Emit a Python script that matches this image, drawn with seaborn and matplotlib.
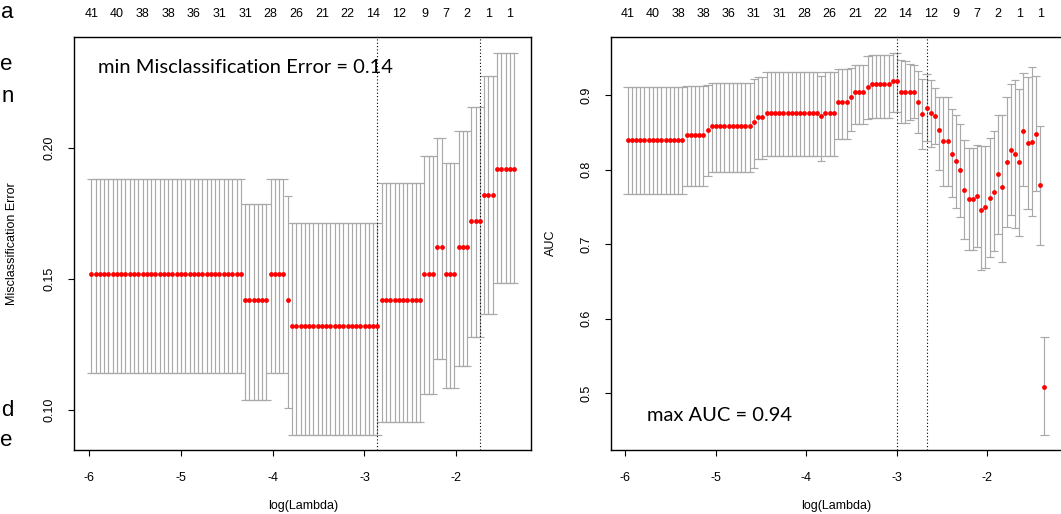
import numpy as np
import pandas as pd
import matplotlib
matplotlib.use("Agg")
import matplotlib.pyplot as plt
import seaborn as sns
from matplotlib.transforms import blended_transform_factory

# ---------------- data ----------------
log_lambda = [-5.975, -5.928, -5.882, -5.835, -5.789, -5.742, -5.696, -5.649, -5.603, -5.556,
              -5.510, -5.463, -5.417, -5.370, -5.324, -5.277, -5.231, -5.184, -5.138, -5.091,
              -5.045, -4.998, -4.952, -4.905, -4.859, -4.812, -4.766, -4.719, -4.673, -4.626,
              -4.579, -4.533, -4.486, -4.440, -4.393, -4.347, -4.300, -4.254, -4.207, -4.161,
              -4.114, -4.068, -4.021, -3.975, -3.928, -3.882, -3.835, -3.789, -3.742, -3.696,
              -3.649, -3.602, -3.556, -3.509, -3.463, -3.416, -3.370, -3.323, -3.277, -3.230,
              -3.184, -3.137, -3.091, -3.044, -2.998, -2.951, -2.905, -2.858, -2.812, -2.765,
              -2.719, -2.672, -2.626, -2.579, -2.533, -2.486, -2.440, -2.393, -2.346, -2.300,
              -2.253, -2.207, -2.160, -2.114, -2.067, -2.021, -1.974, -1.928, -1.881, -1.835,
              -1.788, -1.742, -1.695, -1.649, -1.602, -1.556, -1.509, -1.463, -1.416, -1.370]

nzero_idx = [0, 6, 12, 18, 24, 30, 36, 42, 48, 54, 60, 66, 72, 78, 83, 88, 93, 98]
nzero_labels = ["41", "40", "38", "38", "36", "31", "31", "28", "26", "21", "22",
                "14", "12", "9", "7", "2", "1", "1"]

# Left panel: misclassification error (piecewise-constant runs along the lambda path)
err_run_len = [36, 6, 4, 1, 21, 10, 3, 2, 3, 3, 3, 3, 5]
err_mean = [0.152, 0.142, 0.152, 0.142, 0.132, 0.142, 0.152, 0.162, 0.152, 0.162, 0.172, 0.182, 0.192]
err_up = [0.188, 0.1786, 0.188, 0.1816, 0.1713, 0.1867, 0.197, 0.2037, 0.194, 0.2063, 0.2156, 0.2272, 0.2363]
err_lo = [0.1142, 0.1038, 0.1142, 0.1008, 0.0907, 0.0956, 0.1063, 0.1195, 0.1086, 0.1168, 0.1278, 0.1368, 0.1484]
err_vlines_idx = [67, 91]

# Right panel: AUC
auc_mean = ([0.840] * 14 + [0.8467] * 5 + [0.8538] + [0.858] * 10 + [0.8637] + [0.8704] * 2
            + [0.8763] * 13 + [0.8717] + [0.8763] * 3 + [0.8906] * 3 + [0.8973] + [0.904] * 3
            + [0.9113] + [0.9148] * 5 + [0.9185] * 2 + [0.9046] * 4
            + [0.8906, 0.875, 0.8834, 0.8754, 0.8723, 0.8538, 0.838, 0.838, 0.8211, 0.8111,
               0.799, 0.773, 0.7605, 0.7605, 0.765, 0.746, 0.7505, 0.7618, 0.7699, 0.7941,
               0.7761, 0.8103, 0.8269, 0.8211, 0.8103, 0.8525, 0.8359, 0.8367, 0.848, 0.7788,
               0.5087])
auc_up = ([0.9108] * 14 + [0.9121] * 5 + [0.913] + [0.9162] * 10 + [0.9215] + [0.9242] * 2
          + [0.931] * 13 + [0.9264] + [0.931] * 3 + [0.9346] * 3 + [0.9365] + [0.9401] * 3
          + [0.9524] + [0.9538] * 5 + [0.957] * 2 + [0.947, 0.946, 0.942, 0.940]
          + [0.933, 0.922, 0.929, 0.920, 0.909, 0.898, 0.898, 0.898, 0.881, 0.874,
             0.8615, 0.840, 0.829, 0.829, 0.8336, 0.832, 0.832, 0.8426, 0.8515, 0.874,
             0.874, 0.8978, 0.9153, 0.9202, 0.9086, 0.9292, 0.9248, 0.9377, 0.9256, 0.8582,
             0.5748])
auc_lo = ([0.767] * 14 + [0.7785] * 5 + [0.792] + [0.7975] * 10 + [0.8022] + [0.8149] * 2
          + [0.8185] * 13 + [0.8112] + [0.8185] * 3 + [0.8409] * 3 + [0.8514] + [0.8613] * 3
          + [0.8686] + [0.8696] * 5 + [0.8778] * 2 + [0.862, 0.863, 0.867, 0.869]
          + [0.849, 0.828, 0.839, 0.831, 0.835, 0.799, 0.778, 0.778, 0.763, 0.748,
             0.737, 0.707, 0.692, 0.692, 0.696, 0.665, 0.6675, 0.6824, 0.6909, 0.7133,
             0.6765, 0.7228, 0.7393, 0.7214, 0.7115, 0.7775, 0.7474, 0.7384, 0.7707, 0.6989,
             0.4441])
auc_vlines_idx = [64, 71]

# ---------------- build frames ----------------
x = np.array(log_lambda)
left_df = pd.DataFrame({
    "log_lambda": x,
    "cvm": np.repeat(err_mean, err_run_len),
    "cvup": np.repeat(err_up, err_run_len),
    "cvlo": np.repeat(err_lo, err_run_len),
})
right_df = pd.DataFrame({
    "log_lambda": x,
    "cvm": auc_mean,
    "cvup": auc_up,
    "cvlo": auc_lo,
})

# ---------------- style ----------------
sns.set_theme(style="white")
plt.rcParams["font.family"] = ["Liberation Sans", "DejaVu Sans"]

W, H = 1061, 514
fig = plt.figure(figsize=(W / 100, H / 100), dpi=100)
ax1 = fig.add_axes([74.4 / W, 64 / H, 456.6 / W, 413.5 / H])
ax2 = fig.add_axes([611 / W, 64 / H, 450 / W, 413.5 / H])

BAR = "#A9A9A9"
xlim = (-6.159, -1.186)
barw = 0.01 * (x.max() - x.min())


def draw_panel(ax, df, vidx, ylim, yticks, yticklabels, ylabel, ylab_x):
    ax.vlines(df["log_lambda"], df["cvlo"], df["cvup"], color=BAR, lw=0.85, zorder=1)
    ax.hlines(df["cvup"], df["log_lambda"] - barw, df["log_lambda"] + barw, color=BAR, lw=0.85, zorder=1)
    ax.hlines(df["cvlo"], df["log_lambda"] - barw, df["log_lambda"] + barw, color=BAR, lw=0.85, zorder=1)
    sns.scatterplot(data=df, x="log_lambda", y="cvm", ax=ax, color="red", s=12,
                    linewidth=0, zorder=3, legend=False)
    for i in vidx:
        ax.axvline(log_lambda[i], color="black", ls=(0, (1, 2)), lw=0.8, zorder=2)
    ax.set_xlim(*xlim)
    ax.set_ylim(*ylim)
    ax.set_xticks([-6, -5, -4, -3, -2])
    ax.set_xticklabels(["-6", "-5", "-4", "-3", "-2"])
    ax.set_yticks(yticks)
    ax.set_yticklabels(yticklabels, rotation=90, va="center")
    ax.tick_params(axis="both", direction="out", length=4.3, width=0.8, colors="black",
                   labelsize=9, bottom=True, left=True)
    ax.tick_params(axis="x", pad=11.5)
    ax.tick_params(axis="y", pad=9)
    ax.set_xlabel("log(Lambda)", fontsize=9, color="black")
    ax.set_ylabel(ylabel, fontsize=9, color="black")
    ax.xaxis.set_label_coords(0.5, -0.122)
    ax.yaxis.set_label_coords(ylab_x, 0.5)
    for sp in ax.spines.values():
        sp.set_color("black")
        sp.set_linewidth(1.0)
    trans = blended_transform_factory(ax.transData, ax.transAxes)
    for i, lab in zip(nzero_idx, nzero_labels):
        ax.text(log_lambda[i], 1.0544, lab, transform=trans, ha="center", va="center",
                fontsize=9, color="black", clip_on=False)


draw_panel(ax1, left_df, err_vlines_idx, (0.0848, 0.2424), [0.10, 0.15, 0.20],
           ["0.10", "0.15", "0.20"], "Misclassification Error", -0.1235)
draw_panel(ax2, right_df, auc_vlines_idx, (0.4235, 0.9788), [0.5, 0.6, 0.7, 0.8, 0.9],
           ["0.5", "0.6", "0.7", "0.8", "0.9"], "AUC", -0.12)
ax2.spines["right"].set_visible(False)

# annotations
ax1.text(98 / W, 1 - 67.6 / H, "min Misclassification Error = 0.14", transform=fig.transFigure,
         ha="left", va="center", fontsize=14.5, family="Lato", color="black")
ax2.text(646.6 / W, 1 - 415.6 / H, "max AUC = 0.94", transform=fig.transFigure,
         ha="left", va="center", fontsize=14.5, family="Lato", color="black")

# fragments of a neighbouring panel's text at the left edge
for s, xr, yc in [("a", 14, 12), ("e", 12, 65), ("n", 14, 96), ("d", 14, 410), ("e", 12, 440)]:
    fig.text(xr / W, 1 - yc / H, s, ha="right", va="center", fontsize=16, color="black")

fig.savefig("out.png", dpi=100)
